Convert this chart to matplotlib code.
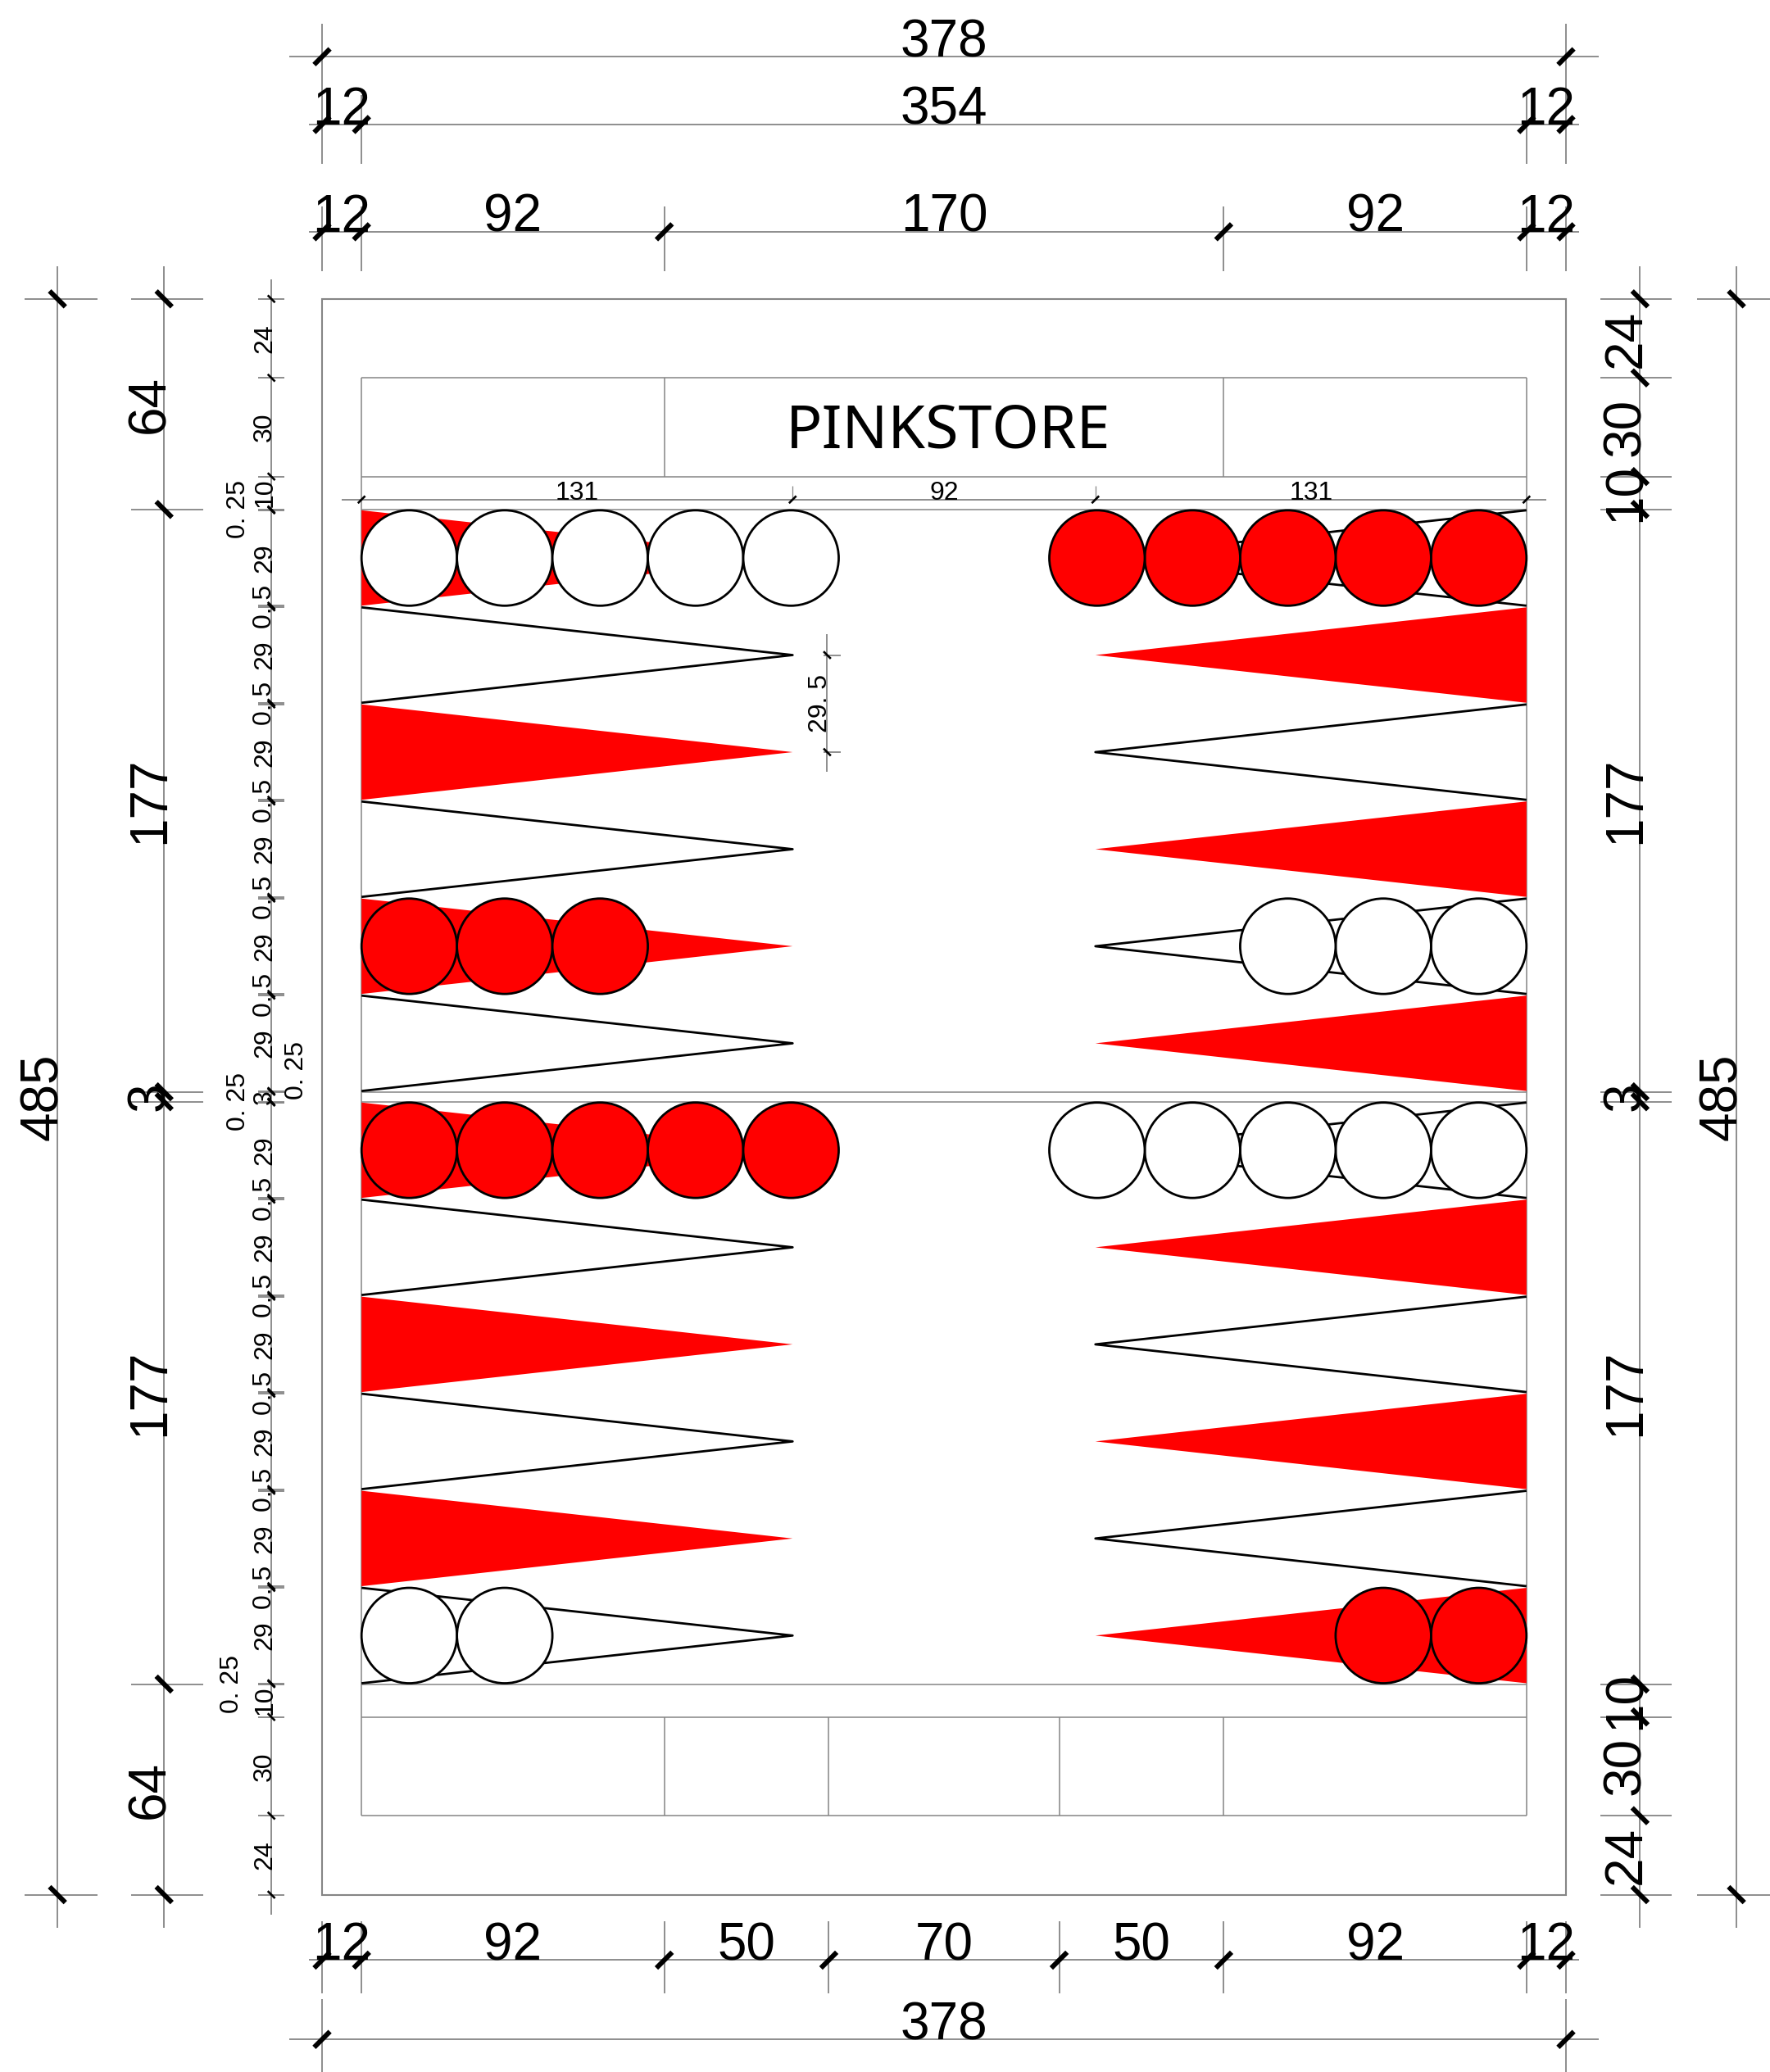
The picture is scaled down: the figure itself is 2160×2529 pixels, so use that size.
import matplotlib
matplotlib.use("Agg")
import matplotlib.pyplot as plt
from matplotlib.patches import Circle, Polygon, Rectangle
import numpy as np

# board sizes
board_w = 378
board_h = 485
top_widths = [12, 92, 170, 92, 12]
bottom_widths = [12, 92, 50, 70, 50, 92, 12]
frame_heights = [24, 30, 10, 177, 3, 177, 10, 30, 24]
big_heights = [64, 177, 3, 177, 64]
point_len = 131
point_h = 29
point_gap = 0.5
edge_gap = 0.25
center_gap = 92

# rows from the board edge, True = red point
left_red = [True, False, True, False, True, False]
right_red = [False, True, False, True, False, True]

# checkers per row: (colour, count)
left_top = {0: ("white", 5), 4: ("red", 3)}
right_top = {0: ("red", 5), 4: ("white", 3)}
left_bottom = {0: ("red", 5), 5: ("white", 2)}
right_bottom = {0: ("white", 5), 5: ("red", 2)}

GREY = "#858585"
RED = "#ff0000"
FONT = ["Liberation Sans"]
BIG_SIZE = 46
SMALL_SIZE = 23

fig = plt.figure(figsize=(21.6, 25.29), dpi=100)
ax = fig.add_axes([0, 0, 1, 1])
ax.set_xlim(-97.86, 440.0)
ax.set_ylim(538.9, -90.84)
ax.axis("off")


def line(xs, ys, color=GREY, lw=1.3, z=1):
    ax.plot(xs, ys, color=color, lw=lw, solid_capstyle="butt", zorder=z)


def tick(x, y, big, slope):
    d = 2.4 if big else 1.1
    line([x - d, x + d], [y + slope * d, y - slope * d], color="black", lw=4.3 if big else 1.9, z=6)


def hdim(y, xs, labels, over=4, ext=None, big=True):
    line([xs[0] - over, xs[-1] + over], [y, y])
    for x in xs:
        if ext:
            line([x, x], ext)
        tick(x, y, big, 1)
    for a, b, t in zip(xs[:-1], xs[1:], labels):
        ax.text((a + b) / 2, y, t, ha="center", va="baseline", family=FONT,
                fontsize=BIG_SIZE if big else SMALL_SIZE, zorder=7)


def vtext(x, y, t, big=False):
    ax.text(x, y, t, rotation=90, rotation_mode="anchor", ha="center", va="baseline",
            family=FONT, fontsize=BIG_SIZE if big else SMALL_SIZE, zorder=7)


def vdim(x, ys, labels, span, arm, big=True):
    line([x, x], span)
    for y in ys:
        line([x + arm[0], x + arm[1]], [y, y])
        tick(x, y, big, -1)
    for a, b, t in zip(ys[:-1], ys[1:], labels):
        if t:
            vtext(x, (a + b) / 2, t, big)


x_top = np.cumsum([0] + top_widths)
x_bottom = np.cumsum([0] + bottom_widths)
y_frame = np.cumsum([0] + frame_heights)
y_big = np.cumsum([0] + big_heights)
inner_l, inner_r = x_top[1], x_top[-2]
y_mid1, y_mid2 = y_frame[4], y_frame[5]

# frame and inner lines
ax.add_patch(Rectangle((0, 0), board_w, board_h, fill=False, ec=GREY, lw=1.5, zorder=1))
line([inner_l, inner_l], [y_frame[1], y_frame[-2]], lw=1.1)
line([inner_r, inner_r], [y_frame[1], y_frame[-2]], lw=1.1)
for y in [y_frame[1], y_frame[2], y_frame[3], y_mid1, y_mid2, y_frame[6], y_frame[7], y_frame[8]]:
    line([inner_l, inner_r], [y, y], lw=1.1)
for x in x_top[2:4]:
    line([x, x], [y_frame[1], y_frame[2]], lw=1.1)
for x in x_bottom[2:6]:
    line([x, x], [y_frame[7], y_frame[8]], lw=1.1)
ax.text(190.3, 40.4, "PINKSTORE", ha="center", va="center", family="Noto Sans", fontsize=53, zorder=7)


def draw_half(y_start, checkers_l, checkers_r):
    rows = []
    y = y_start + edge_gap
    for i in range(len(left_red)):
        rows.append(y)
        y += point_h + point_gap
    for i, y in enumerate(rows):
        mid = y + point_h / 2
        for base, tip, red in [(inner_l, inner_l + point_len, left_red[i]),
                               (inner_r, inner_r - point_len, right_red[i])]:
            if red:
                ax.add_patch(Polygon([(base, y), (tip, mid), (base, y + point_h)], fc=RED, ec="none", zorder=2))
            else:
                line([base, tip, base], [y, mid, y + point_h], color="black", lw=2.0, z=2)
        r = point_h / 2
        if i in checkers_l:
            col, n = checkers_l[i]
            for k in range(n):
                ax.add_patch(Circle((inner_l + r + k * point_h, mid), r, fc=RED if col == "red" else "white",
                                    ec="black", lw=2.0, zorder=4))
        if i in checkers_r:
            col, n = checkers_r[i]
            for k in range(n):
                ax.add_patch(Circle((inner_r - r - k * point_h, mid), r, fc=RED if col == "red" else "white",
                                    ec="black", lw=2.0, zorder=4))
    return rows


rows_top = draw_half(y_frame[3], left_top, right_top)
rows_bottom = draw_half(y_mid2, left_bottom, right_bottom)

# dimensions above the board
hdim(-73.6, [0, board_w], [str(board_w)], over=10, ext=[-83.5, -62])
hdim(-53, [0, inner_l, inner_r, board_w], ["12", "354", "12"], ext=[-62, -41])
hdim(-20.4, list(x_top), [str(w) for w in top_widths], ext=[-28, -8.3])

# dimensions below the board
hdim(504.9, list(x_bottom), [str(w) for w in bottom_widths], ext=[493, 515])
hdim(529, [0, board_w], [str(board_w)], over=10, ext=[516.8, 545])

# points dimension under the text strip
y_131 = 61
x_131 = [inner_l, inner_l + point_len, inner_r - point_len, inner_r]
hdim(y_131, x_131, [str(point_len), str(center_gap), str(point_len)], over=6, big=False)
for x in x_131[1:3]:
    line([x, x], [y_131 - 4.1, y_131], lw=0.9)

# left side
vdim(-80.4, [0, board_h], [str(board_h)], [-10, 495], (-10.1, 12.1))
vdim(-48, list(y_big), [str(h) for h in big_heights], [-10, 495], (-10, 12))

# fine chain next to the left edge
fine_ys = [0, 24, 54, 64, 64.25]
fine_labels = ["24", "30", "10", None]
for rows in (rows_top, rows_bottom):
    for i, y in enumerate(rows):
        if y not in fine_ys:
            fine_ys.append(y)
            fine_labels.append(None)
        fine_ys.append(y + point_h)
        fine_labels.append(str(point_h))
        if i < len(rows) - 1:
            fine_ys.append(y + point_h + point_gap)
            fine_labels.append("0. 5")
    if rows is rows_top:
        fine_ys += [y_mid1, y_mid2]
        fine_labels += [None, "3"]
fine_ys += [y_frame[6], y_frame[7], y_frame[8], y_frame[9]]
fine_labels += [None, "10", "30", "24"]
vdim(-15.4, fine_ys, fine_labels, [-6, 491], (-4.1, 4), big=False)

# the four small 0.25 labels
vtext(-23.4, 64, "0. 25")
vtext(-23.4, 244, "0. 25")
vtext(-5.7, 234.6, "0. 25")
vtext(-25.5, 421, "0. 25")

# point pitch dimension
vdim(153.5, [rows_top[1] + point_h / 2, rows_top[2] + point_h / 2], ["29. 5"], [102, 143.7], (-1, 4.2), big=False)

# right side
vdim(400.5, list(y_frame), [str(h) for h in frame_heights], [-10, 495], (-12, 9.5))
vdim(429.8, [0, board_h], [str(board_h)], [-10, 495], (-12, 12))

fig.savefig("out.png", dpi=100)
